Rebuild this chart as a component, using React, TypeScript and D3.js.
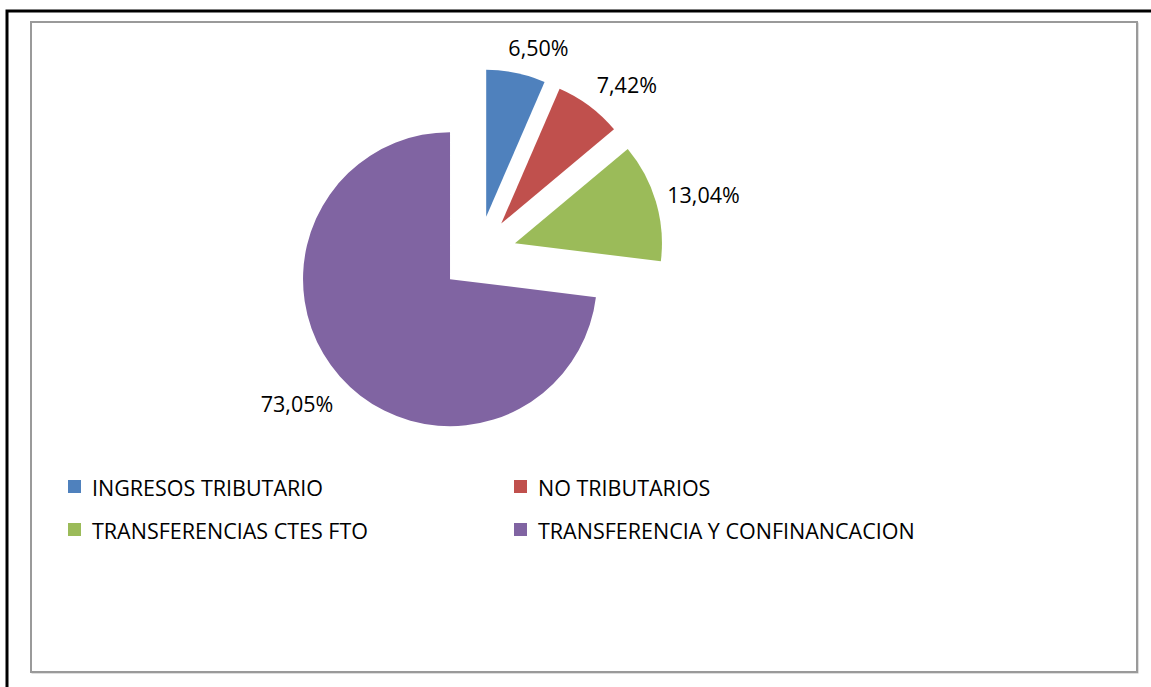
import React from "react";
import * as d3 from "d3";

const categories = [
  "INGRESOS TRIBUTARIO",
  "NO TRIBUTARIOS",
  "TRANSFERENCIAS CTES FTO",
  "TRANSFERENCIA Y CONFINANCACION",
];
const values = [6.5, 7.42, 13.04, 73.05];
const colors = ["#4F81BD", "#C0504D", "#9BBB59", "#8064A2"];

// layout constants
const W = 1151;
const H = 687;
const CX = 478.5;
const CY = 254;
const R = 147;
const EXPLODE = 38;
const LABEL_GAP = 22;
const labelNudge = [
  [18, -3],
  [24.5, -3],
  [26.5, 0],
  [-26.4, 13.5],
];
const FONT = "'Open Sans', 'Noto Sans', sans-serif";
const FS = 21.5;

const fmt = (v: number) => d3.format(".2f")(v).replace(".", ",") + "%";

export default function App() {
  const pie = d3
    .pie<number>()
    .sort(null)
    .value((d) => d)
    .startAngle(0)
    .endAngle(2 * Math.PI);
  const arcs = pie(values);
  const arc = d3.arc<d3.PieArcDatum<number>>().innerRadius(0).outerRadius(R);

  const legendCols = [68, 514];
  const legendRows = [480, 523];

  return (
    <svg
      width={W}
      height={H}
      style={{ position: "absolute", left: 0, top: 0, background: "#fff" }}
    >
      {/* outer black frame */}
      <path d={`M7,${H} V11 H${W}`} fill="none" stroke="#000" strokeWidth={3} />
      {/* chart area frame */}
      <rect x={32} y={23} width={1106} height={650} fill="none" stroke="#bdbdbd" strokeWidth={1} />
      <rect x={31} y={22} width={1106} height={650} fill="#fff" stroke="#9a9a9a" strokeWidth={2} />

      {arcs.map((a, i) => {
        const mid = (a.startAngle + a.endAngle) / 2;
        const ux = Math.sin(mid);
        const uy = -Math.cos(mid);
        const ex = CX + EXPLODE * ux;
        const ey = CY + EXPLODE * uy;
        const lx = ex + (R + LABEL_GAP) * ux + labelNudge[i][0];
        const ly = ey + (R + LABEL_GAP) * uy + labelNudge[i][1];
        return (
          <g key={i}>
            <path d={arc(a) || ""} transform={`translate(${ex},${ey})`} fill={colors[i]} />
            <text
              x={lx}
              y={ly + 7.7}
              textAnchor="middle"
              fontFamily={FONT}
              fontSize={FS}
              fill="#000"
            >
              {fmt(values[i])}
            </text>
          </g>
        );
      })}

      {categories.map((c, i) => {
        const col = i % 2;
        const row = Math.floor(i / 2);
        const x = legendCols[col];
        const y = legendRows[row];
        return (
          <g key={c}>
            <rect x={x} y={y} width={13} height={13} fill={colors[i]} />
            <text x={x + 24} y={y + 16} fontFamily={FONT} fontSize={FS} fill="#000">
              {c}
            </text>
          </g>
        );
      })}
    </svg>
  );
}
